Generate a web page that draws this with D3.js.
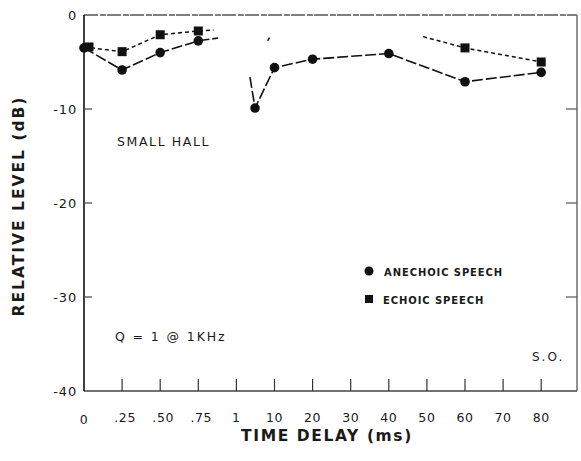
<!DOCTYPE html>
<html>
<head>
<meta charset="utf-8">
<script src="https://cdn.jsdelivr.net/npm/d3@7"></script>
<style>
  html, body { margin: 0; padding: 0; background: #fff; }
  svg { display: block; }
  text { font-family: "DejaVu Sans", sans-serif; fill: #1a1a1a; }
</style>
</head>
<body>
<svg id="chart" width="581" height="461"></svg>
<script>
// Time delay tick labels (ms) and their values; the axis is piecewise:
// 0–1 ms in quarter steps, then 10–80 ms in steps of 10.
const tickValues = [0, 0.25, 0.5, 0.75, 1, 10, 20, 30, 40, 50, 60, 70, 80];
const tickLabels = ["0", ".25", ".50", ".75", "1", "10", "20", "30", "40", "50", "60", "70", "80"];
const yTicks = [0, -10, -20, -30, -40];

// Relative level (dB) for each condition; runs are separate line pieces.
const anechoicRuns = [
  [[0, -3.5], [0.25, -5.85], [0.5, -4.0], [0.75, -2.75], [0.88, -2.45]],
  [[4.2, -6.6], [5.4, -9.9], [10, -5.6], [20, -4.7], [40, -4.1], [60, -7.1], [80, -6.1]]
];
const anechoicPoints = [[0, -3.5], [0.25, -5.85], [0.5, -4.0], [0.75, -2.75],
  [5.4, -9.9], [10, -5.6], [20, -4.7], [40, -4.1], [60, -7.1], [80, -6.1]];

const echoicRuns = [
  [[0, -3.4], [0.25, -3.9], [0.5, -2.1], [0.75, -1.7], [0.85, -1.6]],
  [[8.4, -2.75], [8.8, -2.4]],
  [[49, -2.3], [60, -3.5], [80, -5.0]]
];
const echoicPoints = [[0, -3.4], [0.25, -3.9], [0.5, -2.1], [0.75, -1.7], [60, -3.5], [80, -5.0]];

const svg = d3.select("#chart");
const plotLeft = 84, plotRight = 577, plotTop = 15, plotBottom = 391;

// Index-spaced positions: tick i sits at the i-th step.
const step = 38.1;
const x = d3.scaleLinear()
  .domain([0, 1, 10, 80])
  .range([plotLeft, plotLeft + 4 * step, plotLeft + 5 * step, plotLeft + 12 * step]);
const y = d3.scaleLinear().domain([0, -40]).range([plotTop, plotBottom]);

// Frame
svg.append("line").attr("x1", plotLeft).attr("x2", plotRight).attr("y1", plotTop).attr("y2", plotTop)
  .attr("stroke", "#555").attr("stroke-width", 1.3).attr("stroke-dasharray", "14,2,6,1");
svg.append("line").attr("x1", plotRight).attr("x2", plotRight).attr("y1", plotTop).attr("y2", plotBottom)
  .attr("stroke", "#777").attr("stroke-width", 1.6);
svg.append("line").attr("x1", plotLeft).attr("x2", plotRight).attr("y1", plotBottom).attr("y2", plotBottom)
  .attr("stroke", "#444").attr("stroke-width", 1.3);
svg.append("line").attr("x1", plotLeft).attr("x2", plotLeft).attr("y1", plotTop).attr("y2", plotBottom)
  .attr("stroke", "#111").attr("stroke-width", 1.6);

// Y axis ticks and labels
const yAxis = svg.append("g");
yTicks.forEach(v => {
  if (v !== 0 && v !== -40) {
    yAxis.append("line").attr("x1", plotLeft).attr("x2", plotLeft + 8)
      .attr("y1", y(v)).attr("y2", y(v)).attr("stroke", "#444").attr("stroke-width", 1.2);
    yAxis.append("line").attr("x1", plotRight - 11).attr("x2", plotRight)
      .attr("y1", y(v)).attr("y2", y(v)).attr("stroke", "#555").attr("stroke-width", 1.2);
  }
  yAxis.append("text")
    .attr("x", plotLeft - 7).attr("y", y(v) + 5)
    .attr("text-anchor", "end").attr("font-size", 13).attr("letter-spacing", 0.8)
    .text(v === 0 ? "0" : "-" + Math.abs(v));
});

// X axis ticks and labels
const xAxis = svg.append("g");
tickValues.forEach((v, i) => {
  if (i > 0) {
    xAxis.append("line").attr("x1", x(v)).attr("x2", x(v))
      .attr("y1", plotBottom).attr("y2", plotBottom - 12).attr("stroke", "#333").attr("stroke-width", 1.2);
  }
  xAxis.append("text")
    .attr("x", x(v) + (i >= 1 && i <= 3 ? 3 : 0)).attr("y", i === 0 ? 424 : 422)
    .attr("text-anchor", "middle").attr("font-size", 12.5).attr("letter-spacing", 0.6)
    .text(tickLabels[i]);
});

// Axis titles
svg.append("text")
  .attr("x", 327).attr("y", 441).attr("text-anchor", "middle")
  .attr("font-size", 15.5).attr("font-weight", "bold").attr("letter-spacing", 1.6)
  .text("TIME DELAY (ms)");
svg.append("text")
  .attr("transform", "translate(24,206) rotate(-90)").attr("text-anchor", "middle")
  .attr("font-size", 15.5).attr("font-weight", "bold").attr("letter-spacing", 2)
  .text("RELATIVE LEVEL (dB)");

// Lines
const line = d3.line().x(d => x(d[0])).y(d => y(d[1]));
svg.append("g").selectAll("path").data(anechoicRuns).join("path")
  .attr("d", line).attr("fill", "none").attr("stroke", "#111")
  .attr("stroke-width", 1.6).attr("stroke-dasharray", "11,3");
svg.append("g").selectAll("path").data(echoicRuns).join("path")
  .attr("d", line).attr("fill", "none").attr("stroke", "#111")
  .attr("stroke-width", 1.5).attr("stroke-dasharray", "4,3");

// Markers
svg.append("g").selectAll("circle").data(anechoicPoints).join("circle")
  .attr("cx", d => x(d[0])).attr("cy", d => y(d[1])).attr("r", 4.8).attr("fill", "#111");
svg.append("g").selectAll("rect").data(echoicPoints).join("rect")
  .attr("x", (d, i) => x(d[0]) - 4.5 + (i === 0 ? 5 : 0)).attr("y", d => y(d[1]) - 4.5)
  .attr("width", 9).attr("height", 9).attr("fill", "#111");

// Annotations
svg.append("text").attr("x", 117).attr("y", 146).attr("font-size", 12.5).attr("letter-spacing", 1.6)
  .text("SMALL HALL");
svg.append("text").attr("x", 115).attr("y", 341).attr("font-size", 12.5).attr("letter-spacing", 1.9)
  .text("Q = 1 @ 1KHz");
svg.append("text").attr("x", 532).attr("y", 361).attr("font-size", 12).attr("letter-spacing", 2)
  .text("S.O.");

// Legend
svg.append("circle").attr("cx", 369).attr("cy", 271).attr("r", 4.5).attr("fill", "#111");
svg.append("text").attr("x", 384).attr("y", 275.5).attr("font-size", 10).attr("letter-spacing", 0.9)
  .attr("font-weight", "bold").text("ANECHOIC SPEECH");
svg.append("rect").attr("x", 365).attr("y", 295).attr("width", 8).attr("height", 8).attr("fill", "#111");
svg.append("text").attr("x", 383).attr("y", 303.5).attr("font-size", 10).attr("letter-spacing", 0.9)
  .attr("font-weight", "bold").text("ECHOIC SPEECH");
</script>
</body>
</html>
